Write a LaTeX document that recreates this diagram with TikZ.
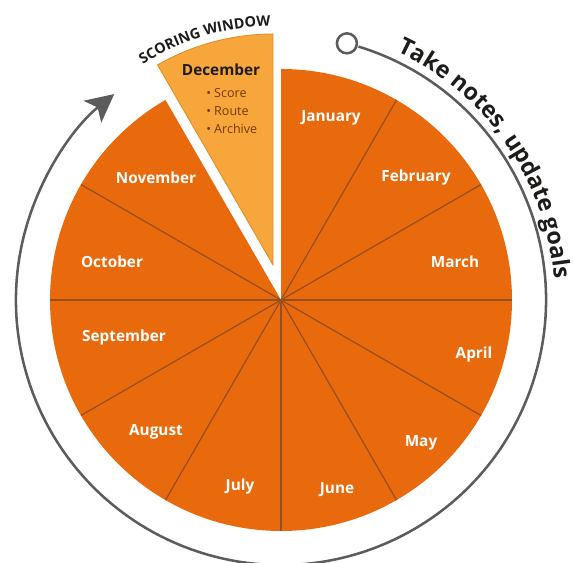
\documentclass[tikz,border=0pt]{standalone}
\usepackage{fontspec}
\setmainfont{Open Sans}
\usetikzlibrary{calc,decorations.text,arrows.meta}

\definecolor{wheelorange}{RGB}{233,106,12}
\definecolor{windowfill}{RGB}{246,166,58}
\definecolor{windowedge}{RGB}{222,140,40}
\definecolor{spoke}{RGB}{150,78,30}
\definecolor{ringgray}{RGB}{92,92,92}
\definecolor{inkdark}{RGB}{30,28,26}
\definecolor{bulletink}{RGB}{118,58,6}

\begin{document}
\begin{tikzpicture}[x=0.75pt,y=0.75pt,
  month/.style={font=\fontsize{11.5}{12}\selectfont\bfseries, text=white, inner sep=0pt},
  wintitle/.style={font=\fontsize{11.5}{12}\selectfont\bfseries, text=inkdark, inner sep=0pt},
  winitem/.style={font=\fontsize{9.4}{10}\selectfont, text=bulletink, inner sep=0pt, anchor=west},
  spokeline/.style={draw=spoke, line width=0.9pt},
  ringline/.style={draw=ringgray, line width=1.9pt},
  marker/.style={circle, draw=ringgray, line width=1.9pt, fill=white, minimum size=15pt, inner sep=0pt}]
\useasboundingbox (0,0) rectangle (574,563);

% wheel centre and the centre of the pulled-out December wedge
\coordinate (C) at (281,263);
\coordinate (A) at (273,298);

% January .. November
\fill[wheelorange] (C) -- ($(C)+(90:231)$) arc[start angle=90, end angle=-240, radius=231] -- cycle;
\foreach \k in {1,...,10}{
  \draw[spokeline] (C) -- ($(C)+(90-30*\k:231)$);
}

% December wedge
\filldraw[fill=windowfill, draw=windowedge, line width=0.6pt]
  (A) -- ($(A)+(90:231)$) arc[start angle=90, end angle=120, radius=231] -- cycle;

% outer cycle arrow
\coordinate (loopstart) at ($(C)+(75.6:265)$);
\draw[ringline, -{Stealth[length=21pt,width=21pt,inset=5pt]}]
  ($(C)+(73:265)$) arc[start angle=73, end angle=-231, radius=265];
\node[marker] (startmark) at (loopstart) {};

% curved captions
\path[decorate, decoration={text along path, text align=left,
  text={|\fontsize{17.5}{18}\selectfont\bfseries\color{inkdark}|Take notes, update goals}}]
  ($(C)+(65:274)$) arc[start angle=65, end angle=-10, radius=274];
\path[decorate, decoration={text along path, text align=left,
  text={|\fontsize{10.8}{11}\selectfont\bfseries\color{inkdark}|SCORING WINDOW}}]
  ($(A)+(123:239)$) arc[start angle=123, end angle=80, radius=239];

% month labels
\node[month] (jan) at (331,445) {January};
\node[month] (feb) at (416,385) {February};
\node[month] (mar) at (455,301) {March};
\node[month] (apr) at (474,208) {April};
\node[month] (may) at (421,120) {May};
\node[month] (jun) at (337,73) {June};
\node[month] (jul) at (240,76) {July};
\node[month] (aug) at (156,131) {August};
\node[month] (sep) at (124,225) {September};
\node[month] (oct) at (112,301) {October};
\node[month] (nov) at (156,385) {November};

% December contents
\node[wintitle] (dec) at (221,493) {December};
\node[winitem] (score) at (206,470) {• Score};
\node[winitem] (route) at (206,452) {• Route};
\node[winitem] (archive) at (206,434) {• Archive};
\end{tikzpicture}
\end{document}
